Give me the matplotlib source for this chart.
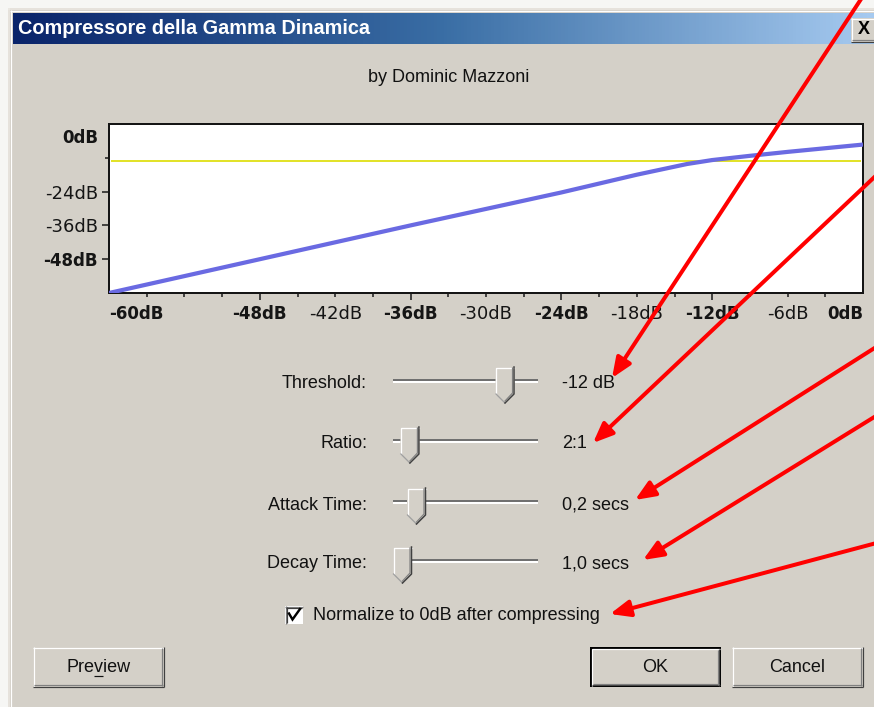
import matplotlib
matplotlib.use('Agg')
import matplotlib.pyplot as plt
import numpy as np
from matplotlib.patches import Rectangle, Polygon
from matplotlib.colors import LinearSegmentedColormap
from matplotlib.ticker import FixedLocator, FuncFormatter
from matplotlib.font_manager import FontProperties

# ---------------- data ----------------
input_db = [-60, -48, -36, -24, -18, -14, -12, -9, -6, -3, 0]
output_db = [-60, -48, -36, -24.3, -18, -14.2, -12.8, -11.3, -9.9, -8.6, -7.3]
threshold_line_db = -13

x_tick_values = [-60, -48, -42, -36, -30, -24, -18, -12, -6, 0]
x_tick_labels = ['-60dB', '-48dB', '-42dB', '-36dB', '-30dB', '-24dB',
                 '-18dB', '-12dB', '-6dB', '0dB']
x_bold_values = [-60, -48, -36, -24, -12, 0]
x_long_ticks = [-48, -36, -24, -12]
x_short_ticks = [-57, -54, -51, -45, -42, -39, -33, -30, -27, -21, -18,
                 -15, -9, -6, -3]

y_tick_values = [0, -24, -36, -48]
y_tick_labels = ['0dB', '-24dB', '-36dB', '-48dB']
y_bold_values = [0, -48]
y_long_ticks = [-24, -36, -48]
y_short_ticks = [-12]

slider_names = ['Threshold:', 'Ratio:', 'Attack Time:', 'Decay Time:']
slider_values = [-12, 2.0, 0.2, 1.0]
slider_mins = [-60, 1.5, 0.1, 1.0]
slider_maxs = [-1, 10.0, 1.0, 30.0]
slider_value_texts = ['-12 dB', '2:1', '0,2 secs', '1,0 secs']

title_text = 'Compressore della Gamma Dinamica'
author_text = 'by Dominic Mazzoni'
checkbox_text = 'Normalize to 0dB after compressing'
button_texts = ['Preview', 'OK', 'Cancel']

# ---------------- layout ----------------
W, H, DPI = 874, 707, 100
PX = 72.0 / DPI
UI_FONT = ['Liberation Sans', 'DejaVu Sans']
TICK_FONT = ['DejaVu Sans']
FACE = '#d4d0c8'

fig = plt.figure(figsize=(W / DPI, H / DPI), dpi=DPI, facecolor='#f6f6f4')
bg = fig.add_axes([0, 0, 1, 1], zorder=0)
bg.set_axis_off()


def hline(x0, x1, y, color, w=1.0, z=2):
    bg.plot([x0, x1], [y, y], color=color, lw=w * PX, solid_capstyle='butt', zorder=z)


def vline(x, y0, y1, color, w=1.0, z=2):
    bg.plot([x, x], [y0, y1], color=color, lw=w * PX, solid_capstyle='butt', zorder=z)


def raised(x0, y0, x1, y1, z=3):
    bg.add_patch(Rectangle((x0, y0), x1 - x0, y1 - y0, fc=FACE, ec='none', zorder=z))
    hline(x0, x1, y0 + 0.5, 'white', 1.2, z + 0.1)
    vline(x0 + 0.5, y0, y1, 'white', 1.2, z + 0.1)
    hline(x0, x1, y1 - 0.5, '#404040', 1.2, z + 0.1)
    vline(x1 - 0.5, y0, y1, '#404040', 1.2, z + 0.1)
    hline(x0 + 1, x1 - 1, y1 - 1.6, '#808080', 1.2, z + 0.1)
    vline(x1 - 1.6, y0 + 1, y1 - 1, '#808080', 1.2, z + 0.1)


# dialog body
bg.add_patch(Rectangle((8, 8), W, H, fc=FACE, ec='none', zorder=1))
hline(8, W, 8.5, '#ece9e3', 1.5)
vline(8.5, 8, H, '#ece9e3', 1.5)
hline(10, W, 10.5, 'white', 1.2)
vline(10.5, 10, H, 'white', 1.2)

# title bar
cmap = LinearSegmentedColormap.from_list('tb', ['#0a246a', '#3a6ea5', '#a6caf0'])
bg.imshow(np.linspace(0, 1, 256)[None, :], cmap=cmap, extent=(13, W + 1, 44, 13),
          aspect='auto', interpolation='bilinear', zorder=2.5)
bg.text(18, 29, title_text, color='white', fontsize=14.3, fontweight='bold',
        family=UI_FONT, ha='left', va='center', zorder=5)
raised(851, 18, 884, 42, z=4)
bg.text(864, 30, 'X', color='black', fontsize=13, fontweight='bold',
        family=UI_FONT, ha='center', va='center', zorder=5)

bg.text(449, 77, author_text, fontsize=13, family=UI_FONT, ha='center',
        va='center', color='#111111', zorder=5)

# sliders
track_x0, track_x1 = 393, 538
thumb_w = 19
row_y = [381, 441, 502, 561]
for name, val, vmin, vmax, vtxt, ty in zip(slider_names, slider_values, slider_mins,
                                          slider_maxs, slider_value_texts, row_y):
    bg.text(367, ty + 3, name, fontsize=13, family=UI_FONT, ha='right',
            va='center', color='#111111', zorder=5)
    bg.text(562, ty + 3, vtxt, fontsize=13, family=UI_FONT, ha='left',
            va='center', color='#111111', zorder=5)
    # groove
    bg.add_patch(Rectangle((track_x0, ty - 2.5), track_x1 - track_x0, 2.5,
                           fc='#707070', ec='none', zorder=3))
    bg.add_patch(Rectangle((track_x0, ty), track_x1 - track_x0, 2,
                           fc='white', ec='none', zorder=3))
    # thumb
    frac = (val - vmin) / (vmax - vmin)
    cx = track_x0 + thumb_w / 2 + frac * (track_x1 - track_x0 - thumb_w)
    l, r = cx - thumb_w / 2, cx + thumb_w / 2
    top, sh, tip = ty - 14, ty + 13, ty + 22
    bg.add_patch(Polygon([(l, top), (r, top), (r, sh), (cx, tip), (l, sh)],
                         closed=True, fc=FACE, ec='none', zorder=4))
    bg.plot([l + 0.5, l + 0.5, r - 0.5], [sh, top + 0.5, top + 0.5], color='white',
            lw=1.3 * PX, zorder=4.1)
    bg.plot([l + 0.5, cx], [sh, tip], color='#a0a0a0', lw=1.3 * PX, zorder=4.1)
    bg.plot([r - 0.5, r - 0.5, cx], [top, sh, tip], color='#404040', lw=1.5 * PX,
            zorder=4.1)
    bg.plot([r - 2, r - 2, cx], [top + 1, sh - 1, tip - 2], color='#808080',
            lw=1.2 * PX, zorder=4.1)

# checkbox
bg.add_patch(Rectangle((285, 606), 18, 18, fc='white', ec='none', zorder=3))
hline(285, 303, 606.5, '#808080', 1.2, 3.1)
vline(285.5, 606, 624, '#808080', 1.2, 3.1)
hline(286, 302, 607.6, '#404040', 1.2, 3.1)
vline(286.6, 607, 623, '#404040', 1.2, 3.1)
bg.plot([289, 292.5, 300], [613.5, 619.5, 609], color='black', lw=2.4 * PX,
        solid_joinstyle='miter', zorder=3.2)
bg.text(313, 615, checkbox_text, fontsize=13, family=UI_FONT, ha='left',
        va='center', color='#111111', zorder=5)

# buttons
raised(33, 647, 164, 687)
bg.text(98.5, 667, button_texts[0], fontsize=13, family=UI_FONT, ha='center',
        va='center', color='#111111', zorder=5)
bg.add_patch(Rectangle((590, 647), 131, 40, fc='black', ec='none', zorder=2.9))
raised(591.5, 648.5, 719.5, 685.5)
bg.text(655.5, 667, button_texts[1], fontsize=13, family=UI_FONT, ha='center',
        va='center', color='#111111', zorder=5)
raised(732, 647, 863, 687)
bg.text(797.5, 667, button_texts[2], fontsize=13, family=UI_FONT, ha='center',
        va='center', color='#111111', zorder=5)

# underline of the mnemonic "v" in Preview
renderer = fig.canvas.get_renderer()
fp = FontProperties(family=UI_FONT, size=13)
w_full = renderer.get_text_width_height_descent(button_texts[0], fp, ismath=False)[0]
w_pre = renderer.get_text_width_height_descent('Pre', fp, ismath=False)[0]
w_prev = renderer.get_text_width_height_descent('Prev', fp, ismath=False)[0]
x_start = 98.5 - w_full / 2
hline(x_start + w_pre, x_start + w_prev, 675.5, '#111111', 1.2, 5)

bg.set_xlim(0, W)
bg.set_ylim(H, 0)

# ---------------- transfer-curve plot ----------------
ax = fig.add_axes([109 / W, 1 - 293 / H, 754 / W, 169 / H], zorder=1)
ax.set_facecolor('white')
ax.set_xlim(-60, 0)
ax.set_ylim(-60, 0)
ax.axhline(threshold_line_db, xmin=0.004, xmax=0.996, color='#e2e22a',
           lw=2 * PX, zorder=2)
ax.plot(input_db, output_db, color='#6a6ae2', lw=4.2 * PX, zorder=3,
        solid_capstyle='butt')

for s in ax.spines.values():
    s.set_linewidth(2 * PX)
    s.set_color('#151515')

label_map = dict(zip(x_tick_values, x_tick_labels))
fmt = FuncFormatter(lambda v, p: label_map.get(int(round(v)), ''))
ax.xaxis.set_major_locator(FixedLocator(x_long_ticks))
ax.xaxis.set_minor_locator(FixedLocator(x_short_ticks + [-60, 0]))
ax.xaxis.set_major_formatter(fmt)
ax.xaxis.set_minor_formatter(fmt)
ax.tick_params(axis='x', which='major', length=7 * PX, width=1.5 * PX,
               pad=5 * PX, colors='#151515', labelsize=12)
ax.tick_params(axis='x', which='minor', length=4 * PX, width=1.5 * PX,
               pad=8 * PX, colors='#151515', labelsize=12)

ax.yaxis.set_major_locator(FixedLocator(y_long_ticks))
ax.yaxis.set_minor_locator(FixedLocator(y_short_ticks))
ax.tick_params(axis='y', which='major', length=7 * PX, width=1.5 * PX,
               colors='#151515', labelleft=False)
ax.tick_params(axis='y', which='minor', length=4 * PX, width=1.5 * PX,
               colors='#151515', labelleft=False)

for v, lab in zip(y_tick_values, y_tick_labels):
    dy = 14 if v == 0 else 2
    bold = v in y_bold_values
    ax.annotate(lab, xy=(0, v), xycoords=('axes fraction', 'data'),
                xytext=(-11 * PX, -dy * PX), textcoords='offset points',
                ha='right', va='center', family=TICK_FONT,
                fontsize=12 if bold else 13,
                fontweight='bold' if bold else 'normal', color='#151515',
                annotation_clip=False)

fig.canvas.draw()
for ticks, locs in ((ax.xaxis.get_major_ticks(), ax.xaxis.get_majorticklocs()),
                    (ax.xaxis.get_minor_ticks(), ax.xaxis.get_minorticklocs())):
    for tick, loc in zip(ticks, locs):
        v = int(round(loc))
        lab = tick.label1
        lab.set_family(TICK_FONT)
        if v in x_bold_values:
            lab.set_fontweight('bold')
            lab.set_fontsize(12)
        else:
            lab.set_fontweight('normal')
            lab.set_fontsize(13)
        if v == x_tick_values[0]:
            lab.set_horizontalalignment('left')
            tick.tick1line.set_visible(False)
        elif v == x_tick_values[-1]:
            lab.set_horizontalalignment('right')
            tick.tick1line.set_visible(False)

# ---------------- red annotation arrows (overlay) ----------------
ov = fig.add_axes([0, 0, 1, 1], zorder=10)
ov.set_axis_off()
ov.patch.set_alpha(0)
ov.set_xlim(0, W)
ov.set_ylim(H, 0)
arrow_tips = [(612, 378), (593, 443), (635, 500), (643, 560), (610, 614)]
arrow_starts = [(867, -10), (884, 168), (884, 342), (884, 411), (884, 541)]
for tip, start in zip(arrow_tips, arrow_starts):
    ov.annotate('', xy=tip, xytext=start,
                arrowprops=dict(arrowstyle='-|>,head_length=0.6,head_width=0.25',
                                color='#ff0000', lw=4 * PX, shrinkA=0, shrinkB=0,
                                mutation_scale=20),
                annotation_clip=False)

fig.savefig('out.png', dpi=DPI, facecolor=fig.get_facecolor())
